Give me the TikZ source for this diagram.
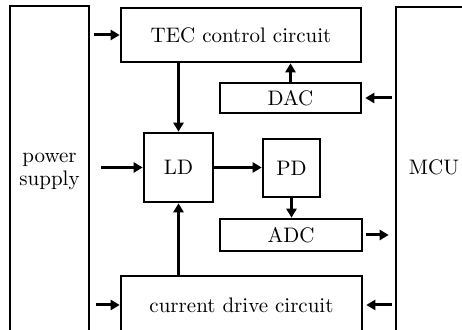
\documentclass[tikz,border=0pt]{standalone}
\usetikzlibrary{arrows.meta}
\begin{document}
\begin{tikzpicture}[x=0.5pt,y=-0.5pt,
  every node/.style={font=\fontsize{10.5}{12.5}\selectfont},
  box/.style={draw,line width=1.3pt,inner sep=0pt,align=center},
  arr/.style={line width=1.5pt,-{Triangle[length=4.5pt,width=5pt]}}]
\useasboundingbox (0,0) rectangle (462,330);
\clip (0,0) rectangle (462,330);
\node[box,minimum width=39.5pt,minimum height=167pt] (power) at (49.5,173) {};
\node[align=center,inner sep=0pt] (powertxt) at (49.5,171) {power\\[-1pt]supply};
\node[box,minimum width=38pt,minimum height=166.5pt] (mcu) at (434,173.5) {};
\node (mcutxt) at (434,167) {MCU};
\node[box,minimum width=120pt,minimum height=27pt] (tec) at (241,35) {TEC control circuit};
\node[box,minimum width=70.5pt,minimum height=15pt] (dac) at (290.5,98) {DAC};
\node[box,minimum width=34.5pt,minimum height=34.5pt] (ld) at (178.5,167.5) {LD};
\node[box,minimum width=28.5pt,minimum height=29pt] (pd) at (291.5,168) {PD};
\node[box,minimum width=71pt,minimum height=16pt] (adc) at (291,235) {ADC};
\node[box,minimum width=120.5pt,minimum height=29pt] (cur) at (241.5,305) {current drive circuit};
% arrows
\draw[arr,shorten <=2pt] (power.east |- tec.west) -- (tec.west);
\draw[arr,shorten <=5.5pt] (power.east |- ld.west) -- (ld.west);
\draw[arr,shorten <=3pt] (power.east |- cur.west) -- (cur.west);
\draw[arr] (ld.east) -- (pd.west |- ld.east);
\draw[arr] (ld.north |- tec.south) -- (ld.north);
\draw[arr] (ld.south |- cur.north) -- (ld.south);
\draw[arr] (dac.north) -- (dac.north |- tec.south);
\draw[arr] (pd.south) -- (pd.south |- adc.north);
\draw[arr,shorten <=1.5pt,shorten >=1.5pt] (mcu.west |- dac.east) -- (dac.east);
\draw[arr,shorten <=1.5pt,shorten >=3pt] (adc.east) -- (mcu.west |- adc.east);
\draw[arr,shorten <=1.5pt,shorten >=1.5pt] (mcu.west |- cur.east) -- (cur.east);
\end{tikzpicture}
\end{document}
